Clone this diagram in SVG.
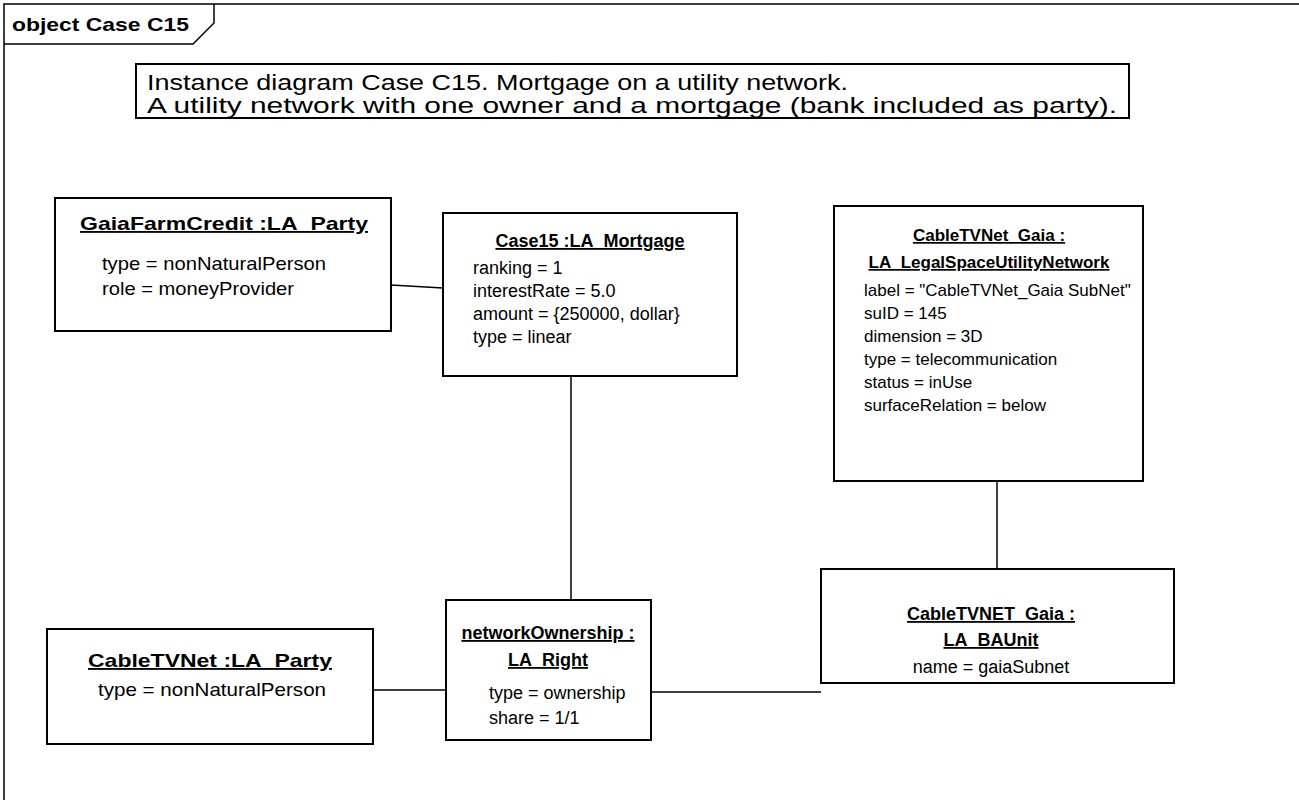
<svg xmlns="http://www.w3.org/2000/svg" width="1299" height="800" viewBox="0 0 1299 800">
<style>
.frame{fill:none;stroke:#000;stroke-width:1.5}
.box{fill:#fff;stroke:#000;stroke-width:2}
.conn line{stroke:#000;stroke-width:1.5}
text{font-family:"Liberation Sans",Arial,sans-serif;fill:#000}
.t{font-size:17px;font-weight:bold;text-anchor:middle;text-decoration:underline}
.a{font-size:17px}
.am{font-size:17px;text-anchor:middle}
.n{font-size:22px}
.tab{font-size:19px;font-weight:bold}
.big .t,.big .a,.big .am{font-size:18.5px}
.mid .t,.mid .a,.mid .am{font-size:18px}
</style>
<rect x="0" y="0" width="1299" height="800" fill="#fff"/>
<g id="frame">
<path class="frame" d="M4,810 V4 H1310"/>
<path class="frame" d="M4,44 H193 L214,23 V4"/>
<text class="tab" x="12" y="31" textLength="177" lengthAdjust="spacingAndGlyphs">object Case C15</text>
</g>
<g id="note">
<rect class="box" x="136" y="64" width="993" height="54" stroke-width="1.5"/>
<text class="n" x="147" y="90" textLength="701" lengthAdjust="spacingAndGlyphs">Instance diagram Case C15. Mortgage on a utility network.</text>
<text class="n" x="147" y="113" textLength="970" lengthAdjust="spacingAndGlyphs">A utility network with one owner and a mortgage (bank included as party).</text>
</g>
<g class="conn" id="connectors">
<line x1="391" y1="285" x2="443" y2="288"/>
<line x1="571" y1="376" x2="571" y2="600"/>
<line x1="997" y1="481" x2="997" y2="569"/>
<line x1="373" y1="690" x2="446" y2="690"/>
<line x1="651" y1="692" x2="821" y2="692"/>
</g>
<g id="gaiaFarmCredit" class="big">
<rect class="box" x="55" y="198" width="336" height="133"/>
<text class="t" x="224" y="230" textLength="288" lengthAdjust="spacingAndGlyphs">GaiaFarmCredit :LA_Party</text>
<text class="a" x="102" y="270" textLength="224" lengthAdjust="spacingAndGlyphs">type = nonNaturalPerson</text>
<text class="a" x="102" y="295" textLength="192" lengthAdjust="spacingAndGlyphs">role = moneyProvider</text>
</g>
<g id="case15" class="mid">
<rect class="box" x="443" y="213" width="294" height="163"/>
<text class="t" x="590" y="247">Case15 :LA_Mortgage</text>
<text class="a" x="473" y="274">ranking = 1</text>
<text class="a" x="473" y="297">interestRate = 5.0</text>
<text class="a" x="473" y="320">amount = {250000, dollar}</text>
<text class="a" x="473" y="343">type = linear</text>
</g>
<g id="cableTVNetGaia">
<rect class="box" x="834" y="206" width="309" height="275"/>
<text class="t" x="989" y="241">CableTVNet_Gaia :</text>
<text class="t" x="989" y="268">LA_LegalSpaceUtilityNetwork</text>
<text class="a" x="864" y="296">label = "CableTVNet_Gaia SubNet"</text>
<text class="a" x="864" y="319">suID = 145</text>
<text class="a" x="864" y="342">dimension = 3D</text>
<text class="a" x="864" y="365">type = telecommunication</text>
<text class="a" x="864" y="388">status = inUse</text>
<text class="a" x="864" y="411">surfaceRelation = below</text>
</g>
<g id="cableTVNet" class="big">
<rect class="box" x="47" y="629" width="326" height="115"/>
<text class="t" x="210" y="667" textLength="244" lengthAdjust="spacingAndGlyphs">CableTVNet :LA_Party</text>
<text class="am" x="212" y="696" textLength="228" lengthAdjust="spacingAndGlyphs">type = nonNaturalPerson</text>
</g>
<g id="networkOwnership" class="mid">
<rect class="box" x="446" y="600" width="205" height="140"/>
<text class="t" x="548" y="639">networkOwnership :</text>
<text class="t" x="548" y="666">LA_Right</text>
<text class="a" x="489" y="699">type = ownership</text>
<text class="a" x="489" y="724">share = 1/1</text>
</g>
<g id="baUnit" class="mid">
<rect class="box" x="821" y="569" width="353" height="114"/>
<text class="t" x="991" y="620">CableTVNET_Gaia :</text>
<text class="t" x="991" y="646">LA_BAUnit</text>
<text class="am" x="991" y="673">name = gaiaSubnet</text>
</g>
</svg>
